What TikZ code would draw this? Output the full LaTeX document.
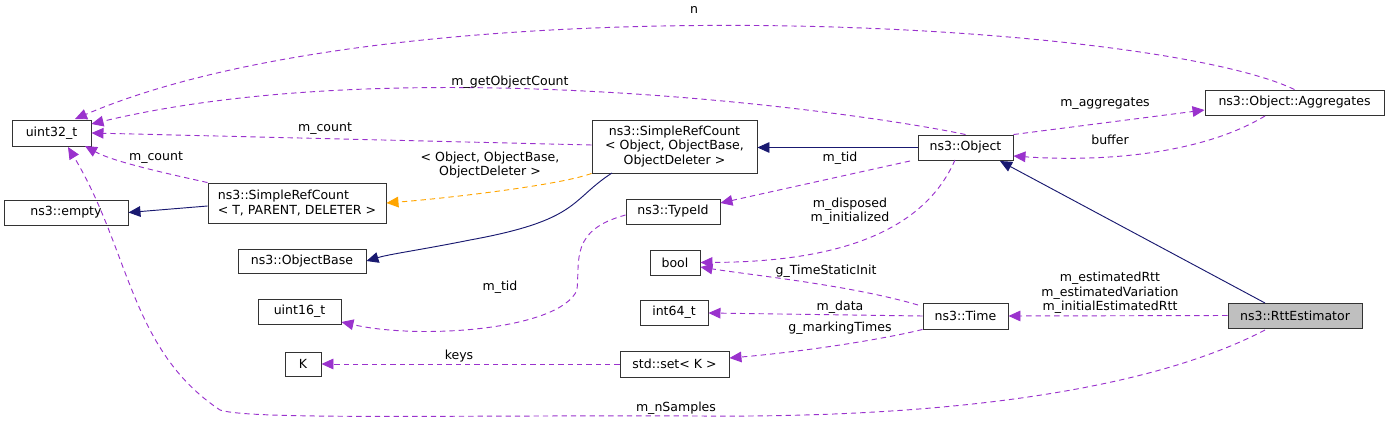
\documentclass[tikz,border=0pt]{standalone}
\usepackage{fontspec}
\setmainfont{DejaVu Sans}
\usetikzlibrary{arrows.meta}
\definecolor{pur}{HTML}{9A32CD}
\definecolor{nav}{HTML}{191970}
\definecolor{org}{HTML}{FFA500}
\begin{document}
\begin{tikzpicture}[x=0.75pt,y=-0.75pt,
  every node/.style={font=\fontsize{9.4}{10.8}\selectfont},
  box/.style={draw=black!80,line width=0.7pt,fill=white,inner sep=0pt,align=center},
  dep/.style={pur,dashed,dash pattern=on 4pt off 3pt,line width=0.7pt,-{Triangle[length=9pt,width=8pt]}},
  inh/.style={nav,line width=0.7pt,-{Triangle[length=9pt,width=8pt]}},
  tpl/.style={org,dashed,dash pattern=on 4pt off 3pt,line width=0.7pt,-{Triangle[length=9pt,width=8pt]}},
  lab/.style={inner sep=1pt,align=center}]
\useasboundingbox (0,0) rectangle (1389,421);
\node[box,minimum width=79*0.75pt,minimum height=26*0.75pt] (u32) at (51.5,133) {uint32\_t};
\node[box,minimum width=124*0.75pt,minimum height=25*0.75pt] (emp) at (66,212.5) {ns3::empty};
\node[box,minimum width=178*0.75pt,minimum height=40*0.75pt,align=left] (srT) at (297,203) {ns3::SimpleRefCount\\< T, PARENT, DELETER >};
\node[box,minimum width=128*0.75pt,minimum height=24*0.75pt] (ob) at (302,261) {ns3::ObjectBase};
\node[box,minimum width=83*0.75pt,minimum height=25*0.75pt] (u16) at (299.5,311.5) {uint16\_t};
\node[box,minimum width=36*0.75pt,minimum height=24*0.75pt] (K) at (303,364) {K};
\node[box,minimum width=165*0.75pt,minimum height=53*0.75pt] (srO) at (674.5,146.5) {ns3::SimpleRefCount\\< Object, ObjectBase,\\ObjectDeleter >};
\node[box,minimum width=94*0.75pt,minimum height=25*0.75pt] (tid) at (673,211.5) {ns3::TypeId};
\node[box,minimum width=50*0.75pt,minimum height=25*0.75pt] (bool) at (675,262.5) {bool};
\node[box,minimum width=68*0.75pt,minimum height=25*0.75pt] (i64) at (674,312.5) {int64\_t};
\node[box,minimum width=109*0.75pt,minimum height=26*0.75pt] (set) at (674.5,364) {std::set< K >};
\node[box,minimum width=95*0.75pt,minimum height=25*0.75pt] (obj) at (965.5,147.5) {ns3::Object};
\node[box,minimum width=85*0.75pt,minimum height=26*0.75pt] (time) at (965.5,316) {ns3::Time};
\node[box,minimum width=179*0.75pt,minimum height=25*0.75pt] (agg) at (1294.5,102.5) {ns3::Object::Aggregates};
\node[box,fill=black!25,minimum width=134*0.75pt,minimum height=25*0.75pt] (rtt) at (1295,315.5) {ns3::RttEstimator};

\draw[dep] (agg.north) .. controls (1150,20) and (400,-20) .. (75,119);
\node[lab] at (694,10) {n};
\draw[dep] (obj.north) .. controls (850,110) and (400,50) .. (u32.east |- 0,124);
\node[lab] at (510,82) {m\_getObjectCount};
\draw[dep] (srO.west |- 0,145) -- (u32.east);
\node[lab] at (325,129) {m\_count};
\draw[dep] (srT.north west) .. controls (150,170) and (110,160) .. (85,146);
\node[lab] at (156,158) {m\_count};
\draw[tpl] (srO.south west) .. controls (560,185) and (450,198) .. (srT.east);
\node[lab] at (490,165) {< Object, ObjectBase,\\ObjectDeleter >};
\draw[inh] (srT.west |- 0,206) -- (emp.east);
\draw[inh] (612,173) .. controls (570,200) and (580,220) .. (470,240) .. controls (420,250) and (390,254) .. (ob.east);
\draw[inh] (obj.west) -- (srO.east |- obj.west);
\draw[dep] (910,161) -- (tid.east |- 0,203);
\node[lab] at (840,158) {m\_tid};
\draw[dep] (955,160) .. controls (920,240) and (820,262) .. (bool.east);
\node[lab] at (850,211) {m\_disposed\\m\_initialized};
\draw[dep] (obj.north east) -- (agg.west |- 0,110);
\node[lab] at (1105,104) {m\_aggregates};
\draw[dep] (1265,116) .. controls (1200,155) and (1100,162) .. (obj.east |- 0,156);
\node[lab] at (1110,140) {buffer};
\draw[inh] (1265,303) -- (1000,161);
\draw[dep] (rtt.west) -- (time.east);
\node[lab] at (1110,293) {m\_estimatedRtt\\m\_estimatedVariation\\m\_initialEstimatedRtt};
\draw[dep] (918,305) .. controls (850,285) and (750,275) .. (bool.east |- 0,267);
\node[lab] at (826,271) {g\_TimeStaticInit};
\draw[dep] (time.west) -- (i64.east |- 0,313);
\node[lab] at (840,307) {m\_data};
\draw[dep] (time.south west) .. controls (880,340) and (800,352) .. (set.east |- 0,358);
\node[lab] at (840,328) {g\_markingTimes};
\draw[dep] (set.west) -- (K.east);
\node[lab] at (459,356) {keys};
\draw[dep] (tid.west |- 0,215) .. controls (570,230) and (580,260) .. (577,290) .. controls (560,330) and (420,340) .. (u16.east |- 0,322);
\node[lab] at (500,287) {m\_tid};
\draw[dep] (1265,330) .. controls (1150,390) and (950,418) .. (700,416) .. controls (450,415) and (250,420) .. (220,410) .. controls (130,350) and (130,250) .. (68,147);
\node[lab] at (676,408) {m\_nSamples};
\end{tikzpicture}
\end{document}
